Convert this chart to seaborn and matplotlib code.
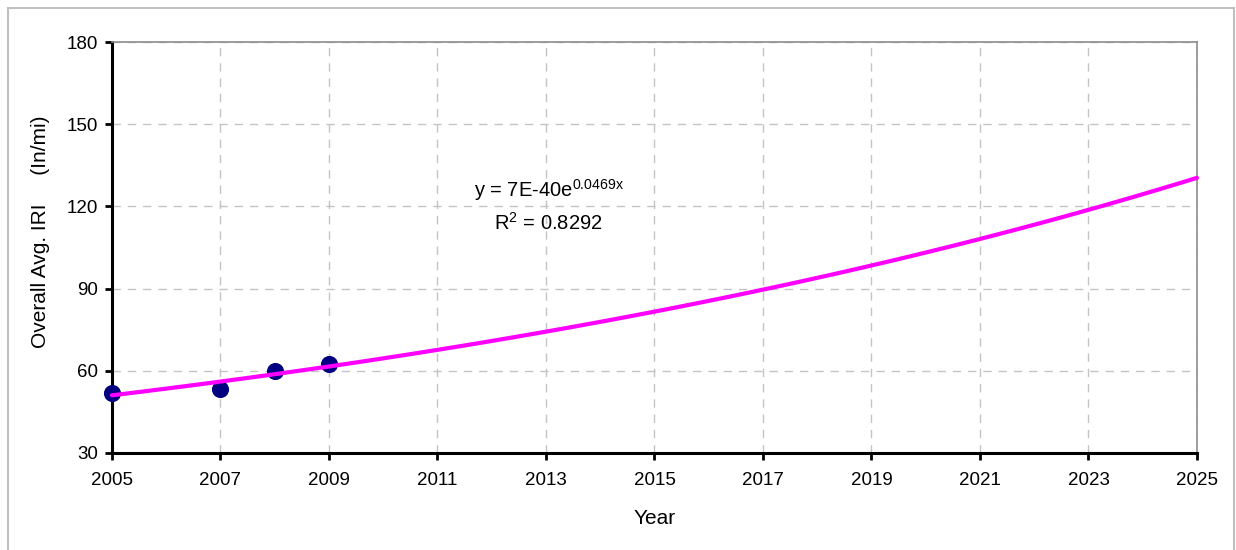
import numpy as np
import pandas as pd
import matplotlib
matplotlib.use("Agg")
import matplotlib.pyplot as plt
from matplotlib.patches import Rectangle
import seaborn as sns

# Measured overall average IRI by year
years = [2005, 2007, 2008, 2009]
iri = [52.0, 53.2, 60.0, 62.4]

# Exponential trend: y = a * e^(rate * x)
trend_rate = 0.0469
trend_label = "y = 7E-40e$^{\\mathregular{0.0469x}}$\nR$^{\\mathregular{2}}$ = 0.8292"
trend_years = np.arange(2005, 2025.01, 0.25)

x_ticks = list(range(2005, 2026, 2))
y_ticks = [30, 60, 90, 120, 150, 180]

sns.set_theme(style="white")
plt.rcParams["font.family"] = ["Liberation Sans", "DejaVu Sans"]
plt.rcParams["text.color"] = "black"
plt.rcParams["axes.labelcolor"] = "black"

# Intercept fitted on the log scale with the rate held fixed
log_a = np.mean(np.log(iri) - trend_rate * np.array(years))
trend_df = pd.DataFrame({"Year": trend_years,
                         "IRI": np.exp(log_a + trend_rate * trend_years)})
obs_df = pd.DataFrame({"Year": years, "IRI": iri})

fig = plt.figure(figsize=(12.36, 5.5), dpi=100)
ax = fig.add_axes([0.0906, 0.1764, 0.8778, 0.7472])

# Frame around the whole chart area
fig.patches.append(Rectangle((8 / 1236, -10 / 550), 1226 / 1236, 552 / 550,
                             transform=fig.transFigure, fill=False,
                             edgecolor="#bfbfbf", linewidth=1.5))

sns.scatterplot(data=obs_df, x="Year", y="IRI", ax=ax, s=130,
                color="#000080", edgecolor="#000080", zorder=3, clip_on=False)
sns.lineplot(data=trend_df, x="Year", y="IRI", ax=ax, color="#ff00ff",
             linewidth=3, zorder=4, clip_on=False)

ax.set_xlim(2005, 2025)
ax.set_ylim(30, 180)
ax.set_xticks(x_ticks)
ax.set_yticks(y_ticks)
ax.tick_params(axis="both", labelsize=13.5, colors="black", direction="out",
               length=5, width=2, bottom=True, left=True)
ax.tick_params(axis="x", pad=9)
ax.tick_params(axis="y", pad=5)
ax.grid(True, color="#c4c4c4", linestyle=(0, (6, 5)), linewidth=1.0)
ax.set_axisbelow(True)

for side in ("left", "bottom"):
    ax.spines[side].set_color("black")
    ax.spines[side].set_linewidth(2.2)
for side in ("top", "right"):
    ax.spines[side].set_color("#8c8c8c")
    ax.spines[side].set_linewidth(1.2)

ax.set_xlabel("Year", fontsize=15, labelpad=14)
ax.set_ylabel("Overall Avg. IRI     (In/mi)", fontsize=15)
ax.yaxis.set_label_coords(-0.057, 0.538)

ax.text(2013.05, 120.5, trend_label, fontsize=14.5, ha="center", va="center",
        linespacing=1.5)

fig.savefig("out.png", dpi=100)
